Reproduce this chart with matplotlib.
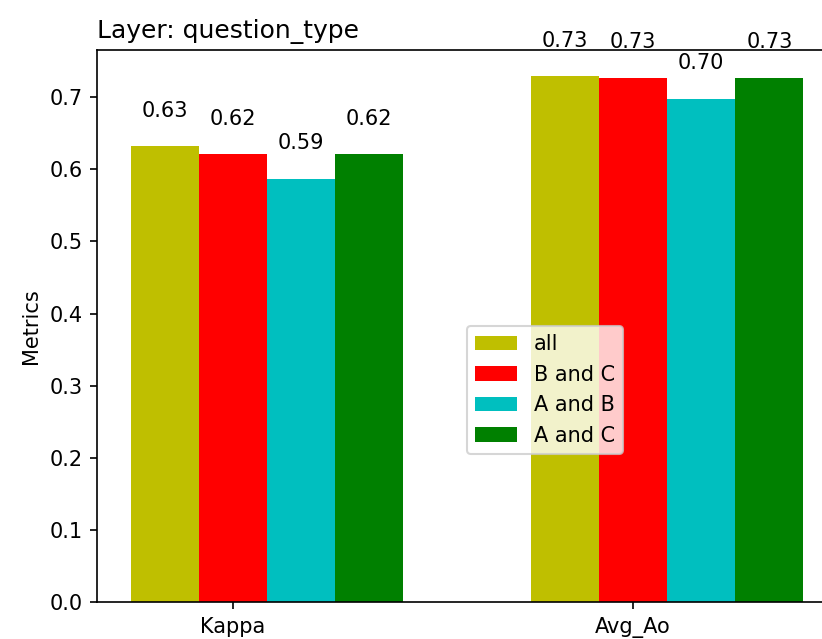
import matplotlib
matplotlib.use("Agg")
import matplotlib.pyplot as plt
import numpy as np

metrics = ["Kappa", "Avg_Ao"]
series_names = ["all", "B and C", "A and B", "A and C"]
values = {
    "all": [0.632, 0.729],
    "B and C": [0.621, 0.727],
    "A and B": [0.587, 0.698],
    "A and C": [0.621, 0.727],
}
colors = ["y", "r", "c", "g"]

W, H, DPI = 822, 639, 150
fig = plt.figure(figsize=(W / DPI, H / DPI), dpi=DPI)
ax = fig.add_axes([97 / W, (H - 602) / H, (837 - 97) / W, (602 - 50) / H])

x = np.arange(len(metrics))
width = 0.17
for j, name in enumerate(series_names):
    pos = x + (j - 1) * width
    bars = ax.bar(pos, values[name], width, color=colors[j], label=name)
    for b, v in zip(bars, values[name]):
        ax.text(b.get_x() + b.get_width() / 2, v + 0.035, f"{v:.2f}",
                ha="center", va="bottom", fontsize=10)

ax.set_xticks(x)
ax.set_xticklabels(metrics)
ax.set_ylabel("Metrics")
ax.set_title("Layer: question_type", loc="left", fontsize=12)
ax.legend(loc="upper left", bbox_to_anchor=(0.5, 0.5), borderaxespad=0)

fig.savefig("out.png", dpi=DPI)
